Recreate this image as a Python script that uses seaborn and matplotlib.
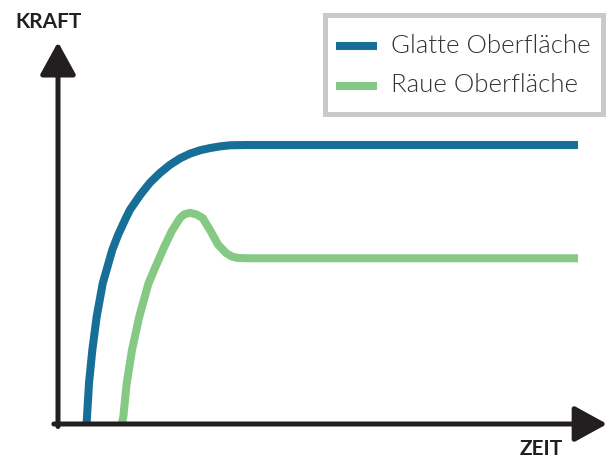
import matplotlib
matplotlib.use("Agg")
import matplotlib.pyplot as plt
import seaborn as sns
import pandas as pd

# Data (time in arbitrary units, force in % of smooth plateau)
series_names = ["Glatte Oberfläche", "Raue Oberfläche"]
smooth_time = [0.548, 0.558, 0.596, 0.660, 0.744, 0.860, 1.044, 1.154, 1.302, 1.385,
               1.577, 1.769, 1.962, 2.154, 2.346, 2.538, 2.731, 2.923, 3.115, 3.308,
               3.629, 10.0]
smooth_force = [0.0, 2.6, 14.6, 26.5, 38.5, 50.4, 62.4, 67.7, 73.7, 76.8,
                82.0, 86.5, 90.0, 92.9, 95.2, 96.9, 98.1, 98.9, 99.5, 99.9,
                100.0, 100.0]
rough_time = [1.225, 1.256, 1.321, 1.423, 1.563, 1.740, 1.865, 2.033, 2.187, 2.346,
              2.423, 2.538, 2.663, 2.783, 2.937, 3.077, 3.231, 3.346, 3.462, 3.692,
              10.0]
rough_force = [0.0, 2.6, 14.6, 26.5, 38.5, 50.4, 55.9, 63.1, 69.1, 73.8,
               75.1, 75.7, 75.1, 73.8, 69.1, 64.3, 61.3, 60.0, 59.5, 59.4,
               59.4]
axis_labels = ["ZEIT", "KRAFT"]

colors = {"Glatte Oberfläche": "#176e96", "Raue Oberfläche": "#86c985"}
axis_color = "#231f20"

df = pd.concat([
    pd.DataFrame({"Zeit": smooth_time, "Kraft": smooth_force, "Oberfläche": series_names[0]}),
    pd.DataFrame({"Zeit": rough_time, "Kraft": rough_force, "Oberfläche": series_names[1]}),
])

sns.set_theme(style="white")
plt.rcParams["font.family"] = ["Lato", "DejaVu Sans"]

W, H = 610, 459
fig = plt.figure(figsize=(W / 100, H / 100), dpi=100)
ax = fig.add_axes([0, 0, 1, 1])
ax.set_xlim(-58 / 52, (W - 58) / 52)
ax.set_ylim(-(H - 424) / 2.79, 424 / 2.79)
ax.axis("off")

sns.lineplot(data=df, x="Zeit", y="Kraft", hue="Oberfläche", palette=colors,
             linewidth=5.8, sort=False, ax=ax, solid_capstyle="butt",
             solid_joinstyle="round", zorder=3)

arrow_kw = dict(arrowstyle="-|>,head_length=20,head_width=11",
                color=axis_color, lw=3.6, shrinkA=0, shrinkB=0, mutation_scale=1)
ax.annotate("", xy=(0, 136.9), xytext=(0, -0.9), arrowprops=arrow_kw, zorder=4)
ax.annotate("", xy=(10.56, 0), xytext=(-0.08, 0), arrowprops=arrow_kw, zorder=4)

ax.text(48.5 / W, 1 - 22 / H, axis_labels[1], transform=ax.transAxes,
        ha="center", va="center", fontsize=15, fontweight="bold", color=axis_color)
ax.text(541.5 / W, 1 - 449 / H, axis_labels[0], transform=ax.transAxes,
        ha="center", va="center", fontsize=15, fontweight="bold", color=axis_color)

leg = ax.legend(loc="upper right", bbox_to_anchor=(602.5 / W, 1 - 14.5 / H),
                frameon=True, fancybox=False, edgecolor="#c9c9c9", framealpha=1,
                prop={"size": 18.5, "weight": 300},
                handlelength=1.6, handletextpad=0.55, handleheight=1.8,
                labelspacing=0.14, borderpad=0.45, borderaxespad=0)
leg.get_frame().set_linewidth(3.6)
for t in leg.get_texts():
    t.set_color("#333333")
# lower the legend key lines to the middle of the label text
for h in leg.legend_handles:
    yd = h.get_ydata()
    h.set_ydata([y - 5.0 for y in yd])

fig.savefig("out.png", dpi=100)
